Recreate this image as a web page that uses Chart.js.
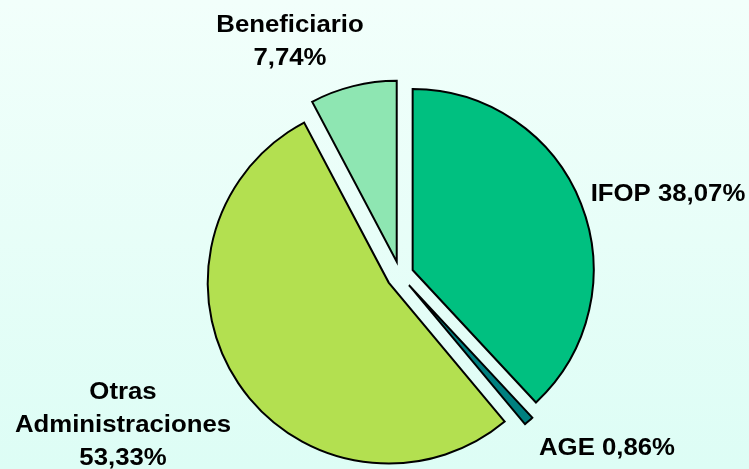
<!DOCTYPE html>
<html>
<head>
<meta charset="utf-8">
<script src="https://cdn.jsdelivr.net/npm/chart.js@4/dist/chart.umd.min.js"></script>
<style>
    html, body {
        margin: 0;
        padding: 0;
        width: 749px;
        height: 469px;
        overflow: hidden;
        background: linear-gradient(#f2fffb, #ddfdf5);
    }
    #wrap {
        position: relative;
        width: 749px;
        height: 469px;
    }
</style>
</head>
<body>
<div id="wrap"><canvas id="chart"></canvas></div>
<script>
// Data (share of funding, %)
const categories = ['IFOP', 'AGE', 'Otras Administraciones', 'Beneficiario'];
const values = [38.07, 0.86, 53.33, 7.74];
const sliceColors = ['#00c080', '#008080', '#b3e050', '#8ee6b2'];

// how each label is broken into lines, and where it sits
const labelLayout = [
    { lines: (n, v) => [n + ' ' + v], x: 668, y: 201 },
    { lines: (n, v) => [n + ' ' + v], x: 607, y: 455 },
    { lines: (n, v) => ['Otras', 'Administraciones', v], x: 123, y: 399 },
    { lines: (n, v) => [n, v], x: 290, y: 32 }
];

const fmtPct = v => v.toFixed(2).replace('.', ',') + '%';

// Explode every slice by the same distance, without the radius growth
// that Chart.js' own `offset` adds to wide slices
const explode = {
    id: 'explode',
    afterDatasetsUpdate(chart, args, opts) {
        const d = opts.distance || 0;
        chart.getDatasetMeta(0).data.forEach(arc => {
            const mid = (arc.startAngle + arc.endAngle) / 2;
            arc.x += Math.cos(mid) * d;
            arc.y += Math.sin(mid) * d;
        });
    }
};

const sliceLabels = {
    id: 'sliceLabels',
    afterDraw(chart) {
        const ctx = chart.ctx;
        ctx.save();
        ctx.fillStyle = '#000';
        ctx.font = "bold 23px 'Liberation Sans', Arial, sans-serif";
        ctx.textAlign = 'center';
        ctx.textBaseline = 'alphabetic';
        categories.forEach((name, i) => {
            const lay = labelLayout[i];
            const lines = lay.lines(name, fmtPct(values[i]));
            lines.forEach((txt, k) => {
                ctx.save();
                ctx.translate(lay.x, lay.y + k * 33);
                ctx.scale(1.12, 1);
                ctx.fillText(txt, 0, 0);
                ctx.restore();
            });
        });
        ctx.restore();
    }
};

new Chart(document.getElementById('chart'), {
    type: 'pie',
    data: {
        labels: categories,
        datasets: [{
            data: values,
            backgroundColor: sliceColors,
            borderColor: '#000',
            borderWidth: 2,
            borderJoinStyle: 'miter',
            hoverOffset: 0
        }]
    },
    options: {
        responsive: true,
        maintainAspectRatio: false,
        animation: false,
        events: [],
        radius: 181,
        layout: {
            padding: { left: 51, right: 0, top: 81, bottom: 0 }
        },
        plugins: {
            legend: { display: false },
            tooltip: { enabled: false },
            explode: { distance: 13.6 }
        }
    },
    plugins: [explode, sliceLabels]
});
</script>
</body>
</html>
